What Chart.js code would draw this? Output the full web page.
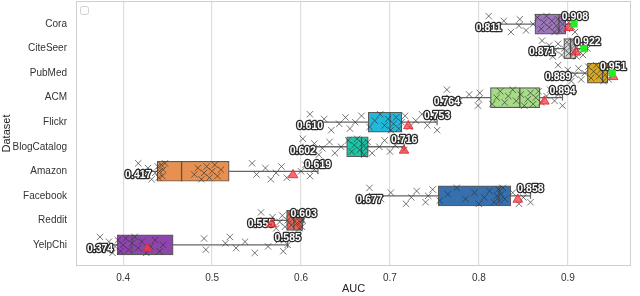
<!DOCTYPE html>
<html>
<head>
<meta charset="utf-8">
<script src="https://cdn.jsdelivr.net/npm/chart.js@4.4.1/dist/chart.umd.min.js"></script>
<style>
  html, body { margin: 0; padding: 0; background: #fff; }
  #wrap { width: 640px; height: 296px; }
</style>
</head>
<body>
<div id="wrap"><canvas id="chart"></canvas></div>
<script>
const categories = ["Cora", "CiteSeer", "PubMed", "ACM", "Flickr", "BlogCatalog", "Amazon", "Facebook", "Reddit", "YelpChi"];
const mins    = [0.811, 0.871, 0.889, 0.764, 0.610, 0.602, 0.417, 0.677, 0.555, 0.374];
const q1s     = [0.863, 0.8955, 0.922, 0.813, 0.6756, 0.6513, 0.4382, 0.7543, 0.5838, 0.3933];
const medians = [0.890, 0.903, 0.939, 0.846, 0.700, 0.668, 0.4657, 0.8226, 0.592, 0.410];
const q3s     = [0.8976, 0.9087, 0.945, 0.8687, 0.7132, 0.6756, 0.5192, 0.8358, 0.6018, 0.4562];
const maxs    = [0.908, 0.922, 0.951, 0.894, 0.753, 0.716, 0.619, 0.858, 0.603, 0.585];
const means   = [0.901, 0.909, 0.951, 0.8736, 0.7206, 0.7158, 0.591, 0.8437, 0.567, 0.4274];
const best    = [0.907, 0.918, 0.950, null, null, null, null, null, null, null];
const xTicks  = [0.4, 0.5, 0.6, 0.7, 0.8, 0.9];
const boxColors = ["#9d76bb", "#d2d2d2", "#d9a81e", "#a6dc86", "#22b8dc", "#1cc6a6", "#e8904f", "#3670ae", "#e7665a", "#8e46ac"];

const runs = [
  [0.811, 0.822, 0.828, 0.836, 0.845, 0.846, 0.853, 0.861, 0.866, 0.870, 0.873, 0.876, 0.879, 0.882, 0.885, 0.887, 0.889, 0.891, 0.894, 0.896, 0.899, 0.901, 0.903, 0.905, 0.906, 0.908],
  [0.871, 0.876, 0.879, 0.883, 0.886, 0.889, 0.893, 0.896, 0.899, 0.901, 0.903, 0.905, 0.906, 0.908, 0.910, 0.912, 0.914, 0.917, 0.922],
  [0.889, 0.895, 0.900, 0.904, 0.908, 0.912, 0.915, 0.919, 0.923, 0.926, 0.929, 0.932, 0.935, 0.937, 0.940, 0.942, 0.944, 0.946, 0.948, 0.951],
  [0.764, 0.778, 0.789, 0.799, 0.800, 0.801, 0.815, 0.820, 0.824, 0.829, 0.833, 0.838, 0.842, 0.847, 0.851, 0.855, 0.858, 0.861, 0.864, 0.867, 0.870, 0.876, 0.880, 0.885, 0.889, 0.894],
  [0.610, 0.618, 0.626, 0.634, 0.643, 0.650, 0.655, 0.661, 0.668, 0.677, 0.683, 0.689, 0.694, 0.698, 0.701, 0.704, 0.707, 0.710, 0.713, 0.717, 0.722, 0.729, 0.736, 0.742, 0.748, 0.753],
  [0.602, 0.608, 0.615, 0.620, 0.624, 0.632, 0.638, 0.645, 0.653, 0.657, 0.660, 0.663, 0.666, 0.669, 0.671, 0.673, 0.675, 0.680, 0.688, 0.694, 0.700, 0.706, 0.712, 0.716],
  [0.417, 0.424, 0.428, 0.432, 0.436, 0.439, 0.440, 0.441, 0.443, 0.444, 0.445, 0.447, 0.480, 0.484, 0.488, 0.491, 0.494, 0.497, 0.500, 0.503, 0.506, 0.510, 0.545, 0.550, 0.560, 0.566, 0.572, 0.578, 0.584, 0.600, 0.605, 0.610, 0.615, 0.619],
  [0.677, 0.690, 0.701, 0.718, 0.724, 0.730, 0.740, 0.743, 0.748, 0.756, 0.765, 0.775, 0.785, 0.795, 0.800, 0.806, 0.812, 0.817, 0.820, 0.822, 0.823, 0.825, 0.827, 0.829, 0.838, 0.845, 0.850, 0.855, 0.858],
  [0.555, 0.562, 0.568, 0.572, 0.576, 0.579, 0.582, 0.585, 0.587, 0.589, 0.591, 0.593, 0.595, 0.597, 0.598, 0.599, 0.600, 0.601, 0.602, 0.603],
  [0.374, 0.380, 0.384, 0.388, 0.391, 0.394, 0.397, 0.400, 0.403, 0.406, 0.410, 0.413, 0.417, 0.421, 0.426, 0.431, 0.436, 0.441, 0.445, 0.491, 0.493, 0.515, 0.520, 0.527, 0.537, 0.548, 0.563, 0.575, 0.580, 0.585],
];

// vertical spread of the strip points (style only)
const jit = (j) => ((((j * 7) % 11) - 5) * 0.065);

const whiskerData = [];
categories.forEach((c, i) => {
  whiskerData.push({ x: mins[i], y: i }, { x: maxs[i], y: i }, { x: null, y: i });
});
const runData = [];
runs.forEach((r, i) => r.forEach((v, j) => runData.push({ x: v, y: i + jit(j) })));

const fmt = (v) => v.toFixed(3);

const decor = {
  id: "decor",
  beforeDatasetsDraw(chart) {
    const { ctx, chartArea: a } = chart;
    ctx.save();
    ctx.strokeStyle = "#cfcfcf";
    ctx.lineWidth = 1;
    ctx.strokeRect(a.left + 0.5, a.top + 0.5, a.width - 1, a.height - 1);
    ctx.restore();
  },
  beforeDatasetDraw(chart, args) {
    if (chart.data.datasets[args.index].label !== "mean") return;
    const { ctx, scales } = chart;
    ctx.save();
    ctx.font = 'bold 10.5px "Liberation Sans", Arial, sans-serif';
    ctx.textAlign = "center";
    ctx.textBaseline = "middle";
    ctx.lineJoin = "round";
    ctx.lineWidth = 2.6;
    ctx.strokeStyle = "#2a2a2a";
    ctx.fillStyle = "#ffffff";
    categories.forEach((c, i) => {
      const yp = scales.y.getPixelForValue(i);
      const lo = [scales.x.getPixelForValue(mins[i]), yp + 4, fmt(mins[i])];
      const hi = [scales.x.getPixelForValue(maxs[i]), yp - 6.5, fmt(maxs[i])];
      [lo, hi].forEach(([x, y, t]) => {
        ctx.strokeText(t, x, y);
        ctx.fillText(t, x, y);
      });
    });
    ctx.restore();
  },
  afterDraw(chart) {
    const { ctx, chartArea: a } = chart;
    ctx.save();
    ctx.strokeStyle = "#d0d0d0";
    ctx.fillStyle = "#fff";
    ctx.lineWidth = 1;
    ctx.beginPath();
    ctx.roundRect(a.left + 4.5, a.top + 5.5, 8, 8, 2);
    ctx.fill();
    ctx.stroke();
    ctx.restore();
  },
};

new Chart(document.getElementById("chart"), {
  type: "bar",
  plugins: [decor],
  data: {
    datasets: [
      {
        type: "scatter",
        label: "best",
        order: 0,
        data: best.map((v, i) => (v == null ? null : { x: v, y: i })).filter((d) => d),
        pointStyle: "rect",
        pointRadius: 5,
        backgroundColor: "#22ee22",
        borderColor: "#22ee22",
        borderWidth: 0,
      },
      {
        type: "scatter",
        label: "mean",
        order: 1,
        data: means.map((v, i) => ({ x: v, y: i + 0.15 })),
        pointStyle: "triangle",
        pointRadius: 5.5,
        backgroundColor: "rgba(240,60,70,0.75)",
        borderColor: "rgba(225,40,50,0.85)",
        borderWidth: 1,
      },
      {
        type: "scatter",
        label: "runs",
        order: 2,
        data: runData,
        pointStyle: "crossRot",
        pointRadius: 4.5,
        borderColor: "rgba(50,50,50,0.75)",
        borderWidth: 0.9,
        backgroundColor: "transparent",
      },
      {
        type: "scatter",
        label: "median",
        order: 3,
        data: medians.map((v, i) => ({ x: v, y: i })),
        pointStyle: "line",
        rotation: 90,
        pointRadius: 10,
        borderColor: "#555",
        borderWidth: 1.3,
      },
      {
        type: "bar",
        label: "box",
        order: 4,
        indexAxis: "y",
        data: q1s.map((v, i) => ({ y: i, x: [v, q3s[i]] })),
        backgroundColor: boxColors,
        borderColor: "#5a5a5a",
        borderWidth: 1.2,
        borderSkipped: false,
        barThickness: 20,
      },
      {
        type: "line",
        label: "whisker",
        order: 5,
        data: whiskerData,
        borderColor: "#666",
        borderWidth: 1.3,
        spanGaps: false,
        pointStyle: "line",
        rotation: 90,
        pointRadius: 3,
        pointBorderColor: "#666",
        pointBorderWidth: 1.2,
        fill: false,
      },
    ],
  },
  options: {
    responsive: true,
    maintainAspectRatio: false,
    animation: false,
    events: [],
    layout: { autoPadding: false, padding: { top: 1, right: 9, left: 0, bottom: 0 } },
    plugins: { legend: { display: false }, tooltip: { enabled: false } },
    scales: {
      x: {
        type: "linear",
        offset: false,
        min: 0.347,
        max: 0.971,
        afterBuildTicks: (axis) => { axis.ticks = xTicks.map((v) => ({ value: v })); },
        afterFit: (axis) => { axis.height = 30; axis.paddingLeft = 0; axis.paddingRight = 0; },
        ticks: {
          callback: (v) => v.toFixed(1),
          color: "#333",
          font: { size: 10, family: '"Liberation Sans", Arial, sans-serif' },
          padding: 6,
        },
        grid: { color: "#dedede", lineWidth: 1.2, drawTicks: false, offset: false },
        border: { display: false },
        title: {
          display: true,
          text: "AUC",
          color: "#222",
          font: { size: 11, family: '"Liberation Sans", Arial, sans-serif' },
          padding: { top: 0, bottom: 0 },
        },
      },
      y: {
        type: "linear",
        offset: false,
        reverse: true,
        min: -0.94,
        max: 9.86,
        afterBuildTicks: (axis) => { axis.ticks = categories.map((c, i) => ({ value: i })); },
        afterFit: (axis) => { axis.width = 76; axis.paddingTop = 0; axis.paddingBottom = 0; },
        ticks: {
          callback: (v) => categories[v],
          autoSkip: false,
          color: "#333",
          font: { size: 10, family: '"Liberation Sans", Arial, sans-serif' },
          padding: 9,
        },
        grid: { display: false, drawTicks: false, offset: false },
        border: { display: false },
        title: {
          display: true,
          text: "Dataset",
          color: "#222",
          font: { size: 11, family: '"Liberation Sans", Arial, sans-serif' },
          padding: { top: 0, bottom: 0 },
        },
      },
    },
  },
});
</script>
</body>
</html>
